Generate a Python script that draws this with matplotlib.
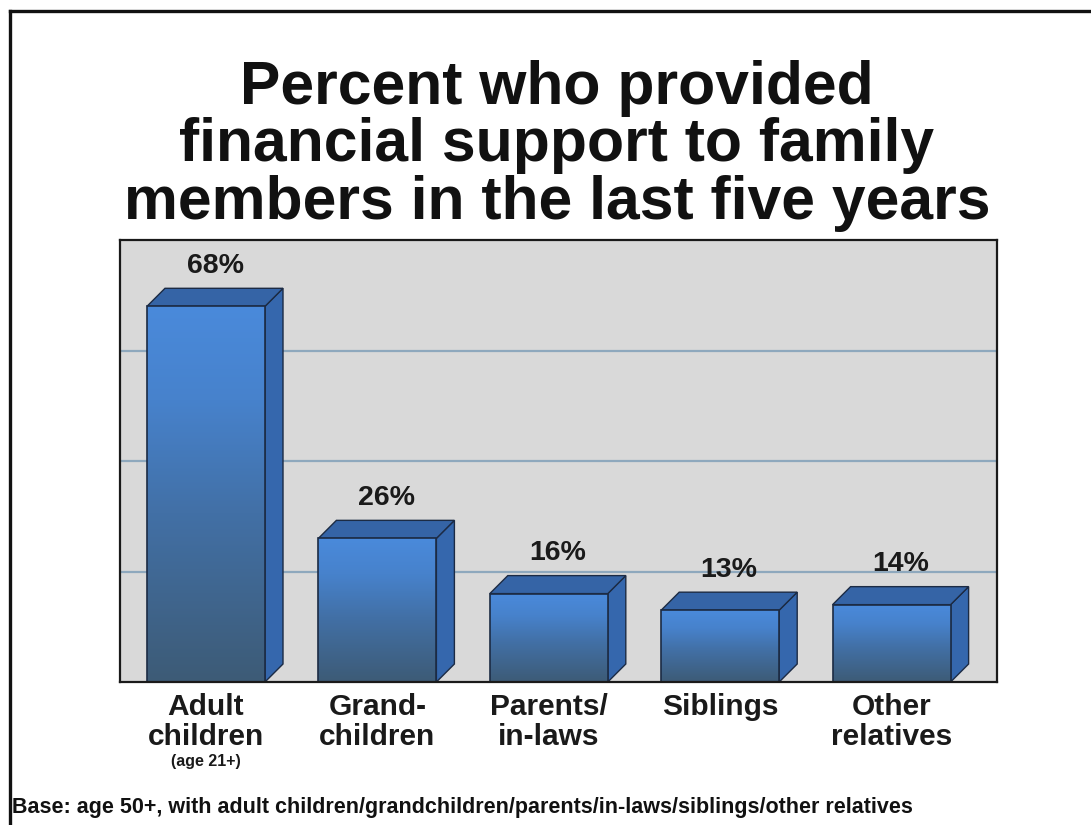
import numpy as np
import matplotlib
matplotlib.use("Agg")
import matplotlib.pyplot as plt
from matplotlib.patches import Polygon, Rectangle
from matplotlib.colors import LinearSegmentedColormap
from matplotlib.lines import Line2D

plt.rcParams['font.family'] = ['Liberation Sans', 'DejaVu Sans']
plt.rcParams['font.weight'] = 'bold'

# ---- data ----
categories = ["Adult\nchildren", "Grand-\nchildren", "Parents/\nin-laws", "Siblings", "Other\nrelatives"]
category_notes = ["(age 21+)", "", "", "", ""]
percent = [68, 26, 16, 13, 14]
grid_ticks = [20, 40, 60]
title = "Percent who provided\nfinancial support to family\nmembers in the last five years"
footnote = "Base: age 50+, with adult children/grandchildren/parents/in-laws/siblings/other relatives"

W, H = 1091, 825
fig = plt.figure(figsize=(W / 100, H / 100), dpi=100)
fig.patch.set_facecolor("white")

# plot area in pixels
px_left, px_right, px_top, px_bottom = 120, 997, 240, 682
ax = fig.add_axes([px_left / W, (H - px_bottom) / H,
                   (px_right - px_left) / W, (px_bottom - px_top) / H])

step_px = 171.4
first_center_px = 206
xmin = (px_left - first_center_px) / step_px
xmax = (px_right - first_center_px) / step_px
ymax = 80
ax.set_xlim(xmin, xmax)
ax.set_ylim(0, ymax)
ax.set_facecolor("#d9d9d9")

# 3D bar geometry (data units)
bar_w = 118 / step_px
depth_x = 18 / step_px
depth_y = 18 / ((px_bottom - px_top) / ymax)

for g in grid_ticks:
    ax.axhline(g, color="#8ea8bd", lw=1.6, zorder=0.5)

front_cmap = LinearSegmentedColormap.from_list(
    "front", [(0.0, "#3d5b76"), (0.45, "#4270a6"), (0.75, "#4782cc"), (1.0, "#4a8adb")])
edge = "#1c2b44"
top_col = "#3564a6"
side_col = "#3567ad"

grad = np.linspace(0, 1, 256).reshape(-1, 1)
for i, v in enumerate(percent):
    x0 = i - bar_w / 2
    x1 = i + bar_w / 2
    # side face
    side = Polygon([(x1, 0), (x1 + depth_x, depth_y), (x1 + depth_x, v + depth_y), (x1, v)],
                   closed=True, facecolor=side_col, edgecolor=edge, lw=1.0, zorder=2)
    ax.add_patch(side)
    # top face
    top = Polygon([(x0, v), (x0 + depth_x, v + depth_y), (x1 + depth_x, v + depth_y), (x1, v)],
                  closed=True, facecolor=top_col, edgecolor=edge, lw=1.0, zorder=2)
    ax.add_patch(top)
    # front face with vertical gradient
    front = Rectangle((x0, 0), bar_w, v, facecolor="none", edgecolor="none", zorder=3)
    ax.add_patch(front)
    im = ax.imshow(grad, extent=[x0, x1, 0, v], origin="lower", aspect="auto",
                   cmap=front_cmap, zorder=3, interpolation="bilinear")
    im.set_clip_path(front)
    ax.add_patch(Rectangle((x0, 0), bar_w, v, facecolor="none", edgecolor=edge, lw=1.2, zorder=4))

    # value label
    ax.annotate(f"{v}%", xy=(i + depth_x / 2, v + depth_y), xytext=(0, 11),
                textcoords="offset points", ha="center", va="baseline",
                fontsize=20.5, fontweight="bold", color="#1a1a1a")

    # category label
    ax.annotate(categories[i], xy=(i, 0), xytext=(0, -8),
                textcoords="offset points", ha="center", va="top",
                fontsize=21.5, fontweight="bold", color="#1a1a1a", linespacing=1.08,
                annotation_clip=False)
    if category_notes[i]:
        ax.annotate(category_notes[i], xy=(i, 0), xytext=(0, -52),
                    textcoords="offset points", ha="center", va="top",
                    fontsize=11.5, fontweight="bold", color="#1a1a1a",
                    annotation_clip=False)

ax.set_xlim(xmin, xmax)
ax.set_ylim(0, ymax)
ax.set_xticks([])
ax.set_yticks([])
for sp in ax.spines.values():
    sp.set_color("#1a1a1a")
    sp.set_linewidth(1.6)
    sp.set_zorder(5)

# title
fig.text(557 / W, 1 - 146 / H, title, ha="center", va="center",
         fontsize=43.7, fontweight="bold", color="#111111", linespacing=1.02)

# footnote
fig.text(12 / W, 1 - 808 / H, footnote, ha="left", va="center",
         fontsize=15.5, fontweight="bold", color="#111111")

# slide frame (top and left edges)
fig.add_artist(Line2D([9.5 / W, 9.5 / W], [0, 1 - 10.5 / H], transform=fig.transFigure,
                      color="#111111", lw=2.4))
fig.add_artist(Line2D([9.5 / W, 1], [1 - 10.5 / H, 1 - 10.5 / H], transform=fig.transFigure,
                      color="#111111", lw=2.4))

fig.savefig("out.png", dpi=100)
